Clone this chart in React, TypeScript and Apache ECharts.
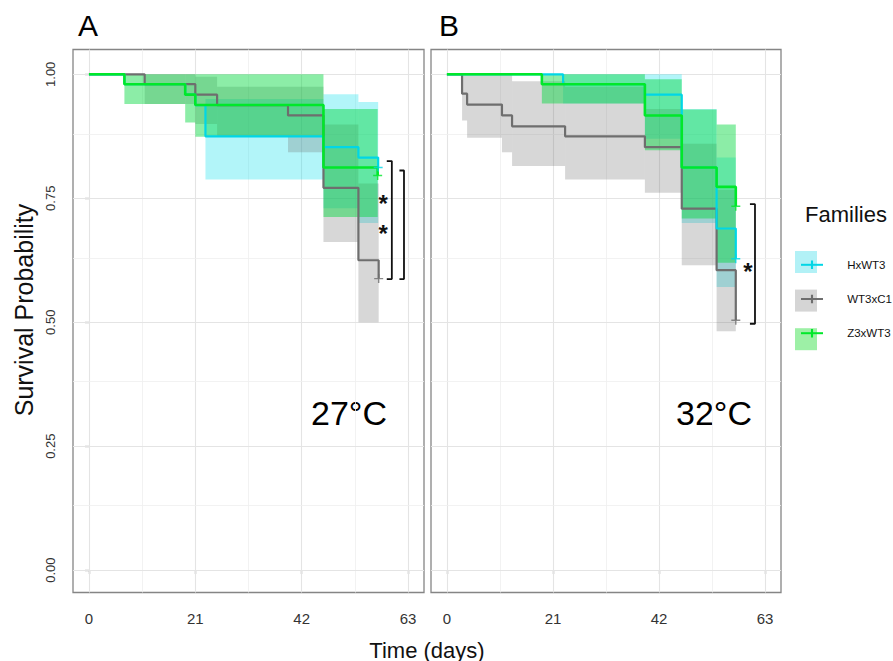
import React, { useEffect, useRef } from "react";
import * as echarts from "echarts";

const FONT = "'Liberation Sans', Arial, Helvetica, sans-serif";

// ---------- categories / styling keys ----------
const families = ["HxWT3", "WT3xC1", "Z3xWT3"];
const lineColors = ["#00D6E6", "#6E6E6E", "#00E82A"];
const bandColors = ["rgba(0,222,236,0.30)", "rgba(110,110,110,0.28)", "rgba(0,215,60,0.45)"];
const legendFills = ["#B2F1F6", "#D5D5D5", "#9DF0A6"];

// ---------- axes ----------
const xTicks = [0, 21, 42, 63];
const xMinorGrid = [10.5, 31.5, 52.5];
const yTicks = [0, 0.25, 0.5, 0.75, 1];
const yMinorGrid = [0.125, 0.375, 0.625, 0.875];

// ---------- Panel A (27°C): Kaplan-Meier steps [day, survival] ----------
const hxA = [[0, 1], [7, 0.98], [19, 0.959], [21, 0.938], [23, 0.875], [46.3, 0.853], [53.2, 0.832], [57.1, 0.812]];
const wtA = [[0, 1], [11, 0.98], [21, 0.959], [25.3, 0.938], [39.3, 0.917], [46.3, 0.771], [53.2, 0.625], [57.2, 0.588]];
const z3A = [[0, 1], [7, 0.98], [19, 0.959], [21, 0.938], [46.3, 0.812], [57, 0.796]];

// confidence bands [dayFrom, dayTo, lower, upper]
const hxBandA = [[23, 46.3, 0.788, 0.95], [46.3, 53.2, 0.73, 0.96], [53.2, 57.1, 0.7, 0.944]];
const wtBandA = [[11, 21, 0.94, 1], [21, 25.3, 0.9, 0.995], [25.3, 39.3, 0.875, 0.975], [39.3, 46.3, 0.843, 0.975], [46.3, 53.2, 0.662, 0.899], [53.2, 57.2, 0.5, 0.78]];
const z3BandA = [[7, 19, 0.94, 1], [19, 21, 0.903, 1], [21, 46.3, 0.874, 1], [46.3, 57, 0.712, 0.93]];

// ---------- Panel B (32°C) ----------
const hxB = [[0, 1], [23, 0.98], [39.2, 0.959], [46.5, 0.812], [53.4, 0.689], [57.2, 0.628]];
const wtB = [[0, 1], [3, 0.961], [4, 0.939], [10.9, 0.917], [12.9, 0.895], [23.4, 0.875], [39.2, 0.853], [46.5, 0.729], [53.4, 0.605], [57.2, 0.504]];
const z3B = [[0, 1], [18.8, 0.98], [39.2, 0.917], [46.5, 0.812], [53.4, 0.773], [57.2, 0.734]];

const hxBandB = [[23, 39.2, 0.941, 1], [39.2, 46.5, 0.87, 1], [46.5, 53.4, 0.7, 0.93], [53.4, 57.2, 0.571, 0.832]];
const wtBandB = [[3, 4, 0.907, 1], [4, 10.9, 0.872, 1], [10.9, 12.9, 0.843, 1], [12.9, 23.4, 0.815, 0.986], [23.4, 39.2, 0.788, 0.975], [39.2, 46.5, 0.761, 0.93], [46.5, 53.4, 0.615, 0.86], [53.4, 57.2, 0.482, 0.767]];
const z3BandB = [[18.8, 39.2, 0.941, 1], [39.2, 46.5, 0.847, 0.99], [46.5, 53.4, 0.709, 0.929], [53.4, 57.2, 0.62, 0.899]];

// ---------- significance brackets & stars ----------
const bracketsA = [
  [[58.8, 0.825], [59.8, 0.825], [59.8, 0.587], [58.8, 0.587]],
  [[61.3, 0.806], [62.2, 0.806], [62.2, 0.587], [61.3, 0.587]],
];
const bracketsB = [[[60.0, 0.738], [61.0, 0.738], [61.0, 0.497], [60.0, 0.497]]];
const starsA = [[58.1, 0.751], [58.1, 0.692]];
const starsB = [[59.6, 0.615]];

const panelTemps = ["27°C", "32°C"];
const panelLetters = ["A", "B"];

const PLUS = "path://M0,4.2H10V5.8H0Z M4.2,0H5.8V10H4.2Z";
const TICK = "path://M0,0H0.01V0.01H0Z M9.99,9.99H10V10H9.99Z M4.4,2.6H5.6V7.4H4.4Z";
const NBSP6 = "\u00a0\u00a0\u00a0\u00a0\u00a0\u00a0";

const panels = [
  { curves: [hxA, wtA, z3A], bands: [hxBandA, wtBandA, z3BandA], brackets: bracketsA, stars: starsA },
  { curves: [hxB, wtB, z3B], bands: [hxBandB, wtBandB, z3BandB], brackets: bracketsB, stars: starsB },
];

function buildOption() {
  const series: any[] = [];
  const lineZ = [4, 3, 5];

  // line series first (legend picks the first series of each name)
  panels.forEach((p, pi) => {
    p.curves.forEach((c, fi) => {
      series.push({
        type: "line",
        name: families[fi],
        xAxisIndex: pi,
        yAxisIndex: pi,
        data: c,
        step: "end",
        showSymbol: false,
        symbol: TICK,
        symbolSize: 10,
        silent: true,
        z: lineZ[fi],
        lineStyle: { color: lineColors[fi], width: fi === 2 ? 2.6 : 2.2 },
        itemStyle: { color: lineColors[fi] },
      });
    });
  });

  panels.forEach((p, pi) => {
    // grid lines
    const mlData: any[] = [];
    xTicks.forEach((v) => mlData.push({ xAxis: v, lineStyle: { color: "#e4e4e4", width: 1.1 } }));
    xMinorGrid.forEach((v) => mlData.push({ xAxis: v, lineStyle: { color: "#efefef", width: 0.8 } }));
    yTicks.forEach((v) => mlData.push({ yAxis: v, lineStyle: { color: "#e4e4e4", width: 1.1 } }));
    yMinorGrid.forEach((v) => mlData.push({ yAxis: v, lineStyle: { color: "#efefef", width: 0.8 } }));
    series.push({
      type: "line",
      xAxisIndex: pi,
      yAxisIndex: pi,
      data: [],
      silent: true,
      z: 1,
      markLine: {
        silent: true,
        symbol: ["none", "none"],
        label: { show: false },
        z: 1,
        lineStyle: { type: "solid" },
        data: mlData,
      },
    });

    // CI bands
    p.bands.forEach((b, fi) => {
      series.push({
        type: "custom",
        name: families[fi],
        xAxisIndex: pi,
        yAxisIndex: pi,
        data: b,
        encode: { x: [0, 1], y: [2, 3] },
        silent: true,
        z: 2,
        clip: true,
        renderItem: (params: any, api: any) => {
          const a = api.coord([api.value(0), api.value(3)]);
          const e = api.coord([api.value(1), api.value(2)]);
          return {
            type: "rect",
            shape: { x: a[0], y: a[1], width: e[0] - a[0], height: e[1] - a[1] },
            style: { fill: bandColors[fi] },
          };
        },
      });
    });

    // censor marks at curve ends
    p.curves.forEach((c, fi) => {
      series.push({
        type: "scatter",
        xAxisIndex: pi,
        yAxisIndex: pi,
        data: [c[c.length - 1]],
        symbol: PLUS,
        symbolSize: 9,
        silent: true,
        z: 6,
        itemStyle: { color: lineColors[fi] },
      });
    });

    // brackets
    p.brackets.forEach((br) => {
      series.push({
        type: "line",
        xAxisIndex: pi,
        yAxisIndex: pi,
        data: br,
        showSymbol: false,
        symbol: "none",
        silent: true,
        z: 7,
        lineStyle: { color: "#111", width: 1.8 },
      });
    });

    // stars
    series.push({
      type: "custom",
      xAxisIndex: pi,
      yAxisIndex: pi,
      data: p.stars,
      silent: true,
      z: 7,
      renderItem: (params: any, api: any) => {
        const pt = api.coord([api.value(0), api.value(1)]);
        return {
          type: "text",
          x: pt[0],
          y: pt[1] + 6,
          style: {
            text: "*",
            fontSize: 24,
            fontWeight: "bold",
            fontFamily: FONT,
            fill: "#111",
            align: "center",
            verticalAlign: "middle",
          },
        };
      },
    });
  });

  const grids = [
    { left: 73, top: 49.5, width: 351, height: 543 },
    { left: 431, top: 49.5, width: 350, height: 543 },
  ].map((g) => ({ ...g, show: true, borderColor: "#858585", borderWidth: 1.3, backgroundColor: "transparent" }));

  const xAxes = [0, 1].map((i) => ({
    type: "value",
    gridIndex: i,
    min: -3.15,
    max: 66.15,
    axisLine: { show: false },
    splitLine: { show: false },
    axisTick: { show: true, customValues: xTicks, length: 4, lineStyle: { color: "#444", width: 1.2 } },
    axisLabel: { customValues: xTicks, fontSize: 15, color: "#333", margin: 18, fontFamily: FONT },
  }));

  const yAxes = [0, 1].map((i) => ({
    type: "value",
    gridIndex: i,
    min: -0.045,
    max: 1.05,
    axisLine: { show: false },
    splitLine: { show: false },
    axisTick: { show: i === 0, customValues: yTicks, length: 4, lineStyle: { color: "#444", width: 1.2 } },
    axisLabel: {
      show: i === 0,
      customValues: yTicks,
      rotate: 90,
      fontSize: 13,
      color: "#333",
      margin: 16,
      fontFamily: FONT,
      formatter: (v: number) => v.toFixed(2),
    },
  }));

  const graphic: any[] = [
    { type: "text", x: 78, y: 40, style: { text: panelLetters[0], fontSize: 30, fontFamily: FONT, fill: "#000", verticalAlign: "bottom" } },
    { type: "text", x: 439, y: 40, style: { text: panelLetters[1], fontSize: 30, fontFamily: FONT, fill: "#000", verticalAlign: "bottom" } },
    { type: "text", x: 349, y: 413, style: { text: panelTemps[0], fontSize: 34, fontFamily: FONT, fill: "#000", align: "center", verticalAlign: "middle" } },
    { type: "text", x: 714, y: 413, style: { text: panelTemps[1], fontSize: 34, fontFamily: FONT, fill: "#000", align: "center", verticalAlign: "middle" } },
    { type: "text", x: 427, y: 650, style: { text: "Time (days)", fontSize: 22, fontFamily: FONT, fill: "#111", align: "center", verticalAlign: "middle" } },
    { type: "text", x: 24, y: 310, rotation: Math.PI / 2, style: { text: "Survival Probability", fontSize: 25, fontFamily: FONT, fill: "#111", align: "center", verticalAlign: "middle" } },
    { type: "text", x: 805, y: 214, style: { text: "Families", fontSize: 22, fontFamily: FONT, fill: "#111", verticalAlign: "middle" } },
  ];
  families.forEach((f, i) => {
    graphic.push({ type: "rect", z: 0, shape: { x: 795, y: 251 + i * 38.6, width: 22, height: 22 }, style: { fill: legendFills[i] } });
  });

  return {
    animation: false,
    backgroundColor: "#fff",
    textStyle: { fontFamily: FONT },
    grid: grids,
    xAxis: xAxes,
    yAxis: yAxes,
    legend: {
      data: families,
      orient: "vertical",
      left: 795,
      top: 251,
      itemWidth: 22,
      itemHeight: 22,
      itemGap: 16.6,
      selectedMode: false,
      z: 5,
      formatter: (name: string) => NBSP6 + name,
      textStyle: {
        fontSize: 11.5,
        color: "#111",
        fontFamily: FONT,
      },
    },
    graphic,
    series,
  };
}

export default function App() {
  const ref = useRef<HTMLDivElement>(null);
  useEffect(() => {
    const chart = echarts.init(ref.current as HTMLDivElement, null, { renderer: "svg" });
    chart.setOption(buildOption() as any);
    return () => chart.dispose();
  }, []);
  return <div ref={ref} style={{ position: "fixed", left: 0, top: 0, width: 893, height: 661 }} />;
}
